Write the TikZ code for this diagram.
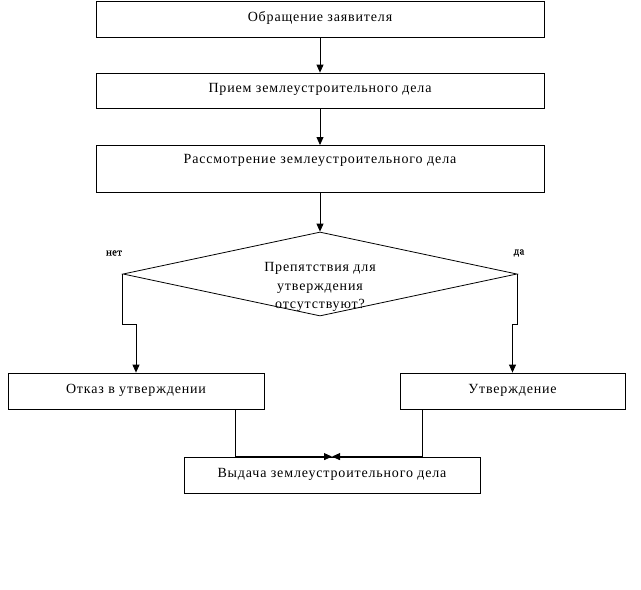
\documentclass[tikz,border=0pt]{standalone}
\usepackage{fontspec}
\setmainfont{Liberation Serif}[LetterSpace=6]
\newfontfamily\lblfont{Liberation Serif}[FakeBold=1.5,LetterSpace=4]
\usetikzlibrary{arrows.meta,shapes.geometric,calc}
\begin{document}
\begin{tikzpicture}[x=1pt,y=-1pt,
  box/.style={draw,line width=0.8pt,rectangle,inner sep=0pt,font=\fontsize{14}{16}\selectfont},
  arr/.style={line width=0.8pt,-{Triangle[length=8pt,width=7pt]}},
  lbl/.style={font=\lblfont\fontsize{10.5}{12}\selectfont},
  qtxt/.style={align=center,font=\fontsize{14}{18.5}\selectfont,inner sep=0pt}]
\useasboundingbox (0,0) rectangle (641,590);
\node[box,minimum width=448pt,minimum height=36pt,text depth=5pt] (b1) at (320,19) {Обращение заявителя};
\node[box,minimum width=448pt,minimum height=35pt,text depth=5pt] (b2) at (320,90.5) {Прием землеустроительного дела};
\node[box,minimum width=448pt,anchor=north,text height=18pt,text depth=29pt,inner ysep=0pt,text width=440pt,align=center] (b3) at (320,145) {Рассмотрение землеустроительного дела};
\node[draw,line width=0.8pt,diamond,aspect=4.69,minimum width=394pt,minimum height=84pt,inner sep=0pt] (d) at (320,274) {};
\node[qtxt] (dt) at (320,287) {Препятствия для\\утверждения\\отсутствуют?};
\node[lbl] (no) at (114,253) {нет};
\node[lbl] (yes) at (519,253) {да};
\node[box,minimum width=256pt,minimum height=36pt,text depth=5pt] (otk) at (136,391) {Отказ в утверждении};
\node[box,minimum width=225pt,minimum height=36pt,text depth=5pt] (utv) at (512.5,391) {Утверждение};
\node[box,minimum width=296pt,minimum height=36pt,text depth=5pt] (vyd) at (332,475) {Выдача землеустроительного дела};
\draw[arr] (b1.south) -- (b2.north);
\draw[arr] (b2.south) -- (b3.north);
\draw[arr] (b3.south) -- (d.north);
\draw[arr] (d.west) -- ++(0,50) -| (otk.north);
\draw[arr] (d.east) -- ++(0,50) -| (utv.north);
\draw[arr] ([xshift=99pt]otk.south) |- (vyd.north);
\draw[arr] ([xshift=-90.5pt]utv.south) |- (vyd.north);
\end{tikzpicture}
\end{document}
